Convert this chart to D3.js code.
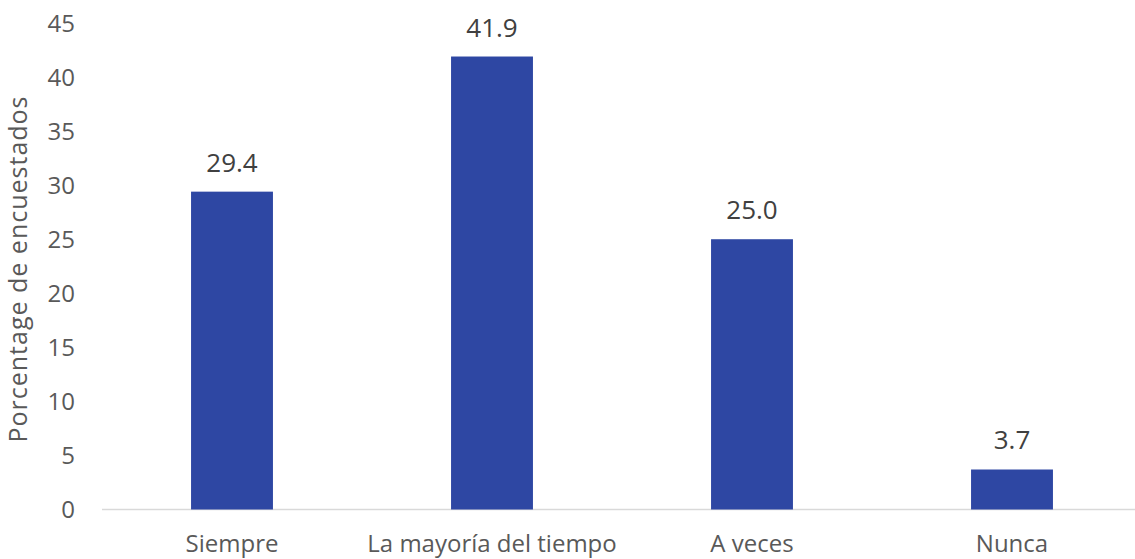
<!DOCTYPE html>
<html>
<head>
<meta charset="utf-8">
<script src="https://cdn.jsdelivr.net/npm/d3@7"></script>
<style>
  body { margin: 0; background: #fff; }
  svg { display: block; font-family: "Open Sans", "Liberation Sans", Arial, sans-serif; }
</style>
</head>
<body>
<div id="main"></div>
<script>
const categories = ["Siempre", "La mayoría del tiempo", "A veces", "Nunca"];
const values = [29.4, 41.9, 25.0, 3.7];
const yTicks = [0, 5, 10, 15, 20, 25, 30, 35, 40, 45];
const yTitle = "Porcentage de encuestados";

const width = 1135, height = 559;
const plotLeft = 102, plotRight = 1142, plotTop = 23, plotBottom = 509.5;

const svg = d3.select('#main')
  .append('svg')
  .attr('width', width)
  .attr('height', height);

const x = d3.scaleBand()
  .domain(categories)
  .range([plotLeft, plotRight])
  .paddingInner(0.685)
  .paddingOuter(0.3425);

const y = d3.scaleLinear()
  .domain([0, 45])
  .range([plotBottom, plotTop]);

// baseline
svg.append('line')
  .attr('x1', plotLeft).attr('x2', width)
  .attr('y1', y(0)).attr('y2', y(0))
  .attr('stroke', '#d9d9d9')
  .attr('stroke-width', 1.5);

// y tick labels
svg.selectAll('.ytick')
  .data(yTicks)
  .enter().append('text')
  .attr('class', 'ytick')
  .attr('x', 75)
  .attr('y', d => y(d))
  .attr('dy', '0.36em')
  .attr('text-anchor', 'end')
  .attr('fill', '#595959')
  .attr('font-size', 24)
  .text(d => d);

svg.append('text')
  .attr('transform', `translate(27,269) rotate(-90)`)
  .attr('text-anchor', 'middle')
  .attr('fill', '#595959')
  .attr('font-size', 25)
  .attr('letter-spacing', 1)
  .text(yTitle);

const data = categories.map((c, i) => ({ c, v: values[i] }));

svg.selectAll('.bar')
  .data(data)
  .enter().append('rect')
  .attr('class', 'bar')
  .attr('x', d => x(d.c))
  .attr('width', x.bandwidth())
  .attr('y', d => y(d.v))
  .attr('height', d => y(0) - y(d.v))
  .attr('fill', '#2e47a3');

svg.selectAll('.lbl')
  .data(data)
  .enter().append('text')
  .attr('class', 'lbl')
  .attr('x', d => x(d.c) + x.bandwidth() / 2)
  .attr('y', d => y(d.v) - 20)
  .attr('text-anchor', 'middle')
  .attr('fill', '#404040')
  .attr('font-size', 26)
  .text(d => d.v.toFixed(1));

svg.selectAll('.xlbl')
  .data(categories)
  .enter().append('text')
  .attr('class', 'xlbl')
  .attr('x', d => x(d) + x.bandwidth() / 2)
  .attr('y', 552)
  .attr('text-anchor', 'middle')
  .attr('fill', '#595959')
  .attr('font-size', 24)
  .text(d => d);
</script>
</body>
</html>
